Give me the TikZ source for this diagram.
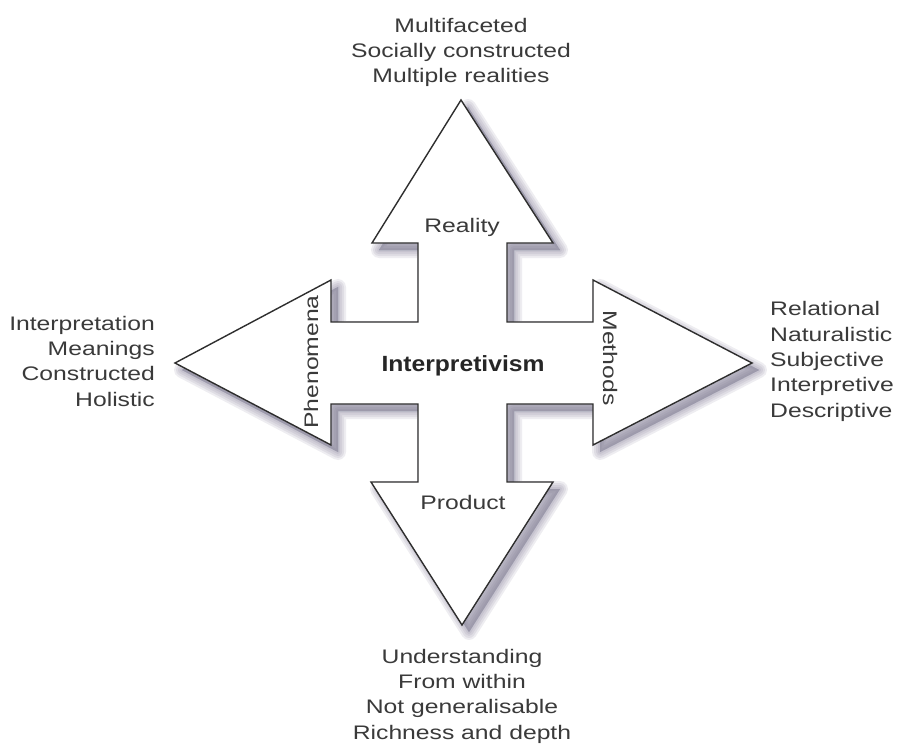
\documentclass[tikz,border=0pt]{standalone}
\usepackage{fontspec}
\setmainfont{Liberation Sans}[FakeStretch=1.26]
\newfontfamily\boldfont{Liberation Sans}[FakeStretch=1.12]
\definecolor{txt}{HTML}{3A3A3A}
\definecolor{shadowc}{HTML}{75718C}
\definecolor{edge}{HTML}{2E2E2E}
\newcommand\crossshape[1]{%
  \path[#1] (461,100) -- (553,243) -- (507,243) -- (507,322) -- (593,322) -- (593,280)
    -- (752,363) -- (593,445) -- (593,404) -- (507,404) -- (507,482) -- (553,482)
    -- (462,625) -- (371,482) -- (418,482) -- (418,404) -- (331,404) -- (331,445)
    -- (175,363) -- (331,280) -- (331,322) -- (418,322) -- (418,243) -- (372,243) -- cycle;}
\begin{document}
\begin{tikzpicture}[x=1pt,y=-1pt,
  every node/.style={inner sep=0pt, text=txt, font=\fontsize{19.6pt}{25.3pt}\selectfont},
  shadowlayer/.style={shift={(7,7)}, fill=shadowc, draw=shadowc, fill opacity=0.12, draw opacity=0.12, line width=#1, line join=round},
  listc/.style={align=center, anchor=base},
  listr/.style={align=right, anchor=base east},
  listl/.style={align=left, anchor=base west}]
\fill[white] (0,0) rectangle (899,746);
\useasboundingbox (0,0) rectangle (899,746);
% blurred drop shadow
\crossshape{shadowlayer=16pt}
\crossshape{shadowlayer=12pt}
\crossshape{shadowlayer=8pt}
\crossshape{shadowlayer=4pt}
\crossshape{shadowlayer=0.5pt}
% the cross of arrows
\crossshape{fill=white, draw=edge, line width=1.4pt, line join=miter}
% labels on the arrows
\node[anchor=base] (reality) at (462,233) {Reality};
\node[anchor=base] (product) at (463,509) {Product};
\node[anchor=base, rotate=90] (phenomena) at (318,362) {Phenomena};
\node[anchor=base, rotate=-90] (methods) at (603,358) {Methods};
\node[anchor=base, text=black!85, font=\boldfont\bfseries\fontsize{22pt}{26pt}\selectfont] (interp) at (463,371) {Interpretivism};
% outer lists (base anchor = last line)
\node[listc] (toplist) at (461,83) {Multifaceted\\Socially constructed\\Multiple realities};
\node[listr] (leftlist) at (155,406) {Interpretation\\Meanings\\Constructed\\Holistic};
\node[listl] (rightlist) at (770,417) {Relational\\Naturalistic\\Subjective\\Interpretive\\Descriptive};
\node[listc] (bottomlist) at (462,739) {Understanding\\From within\\Not generalisable\\Richness and depth};
\end{tikzpicture}
\end{document}
